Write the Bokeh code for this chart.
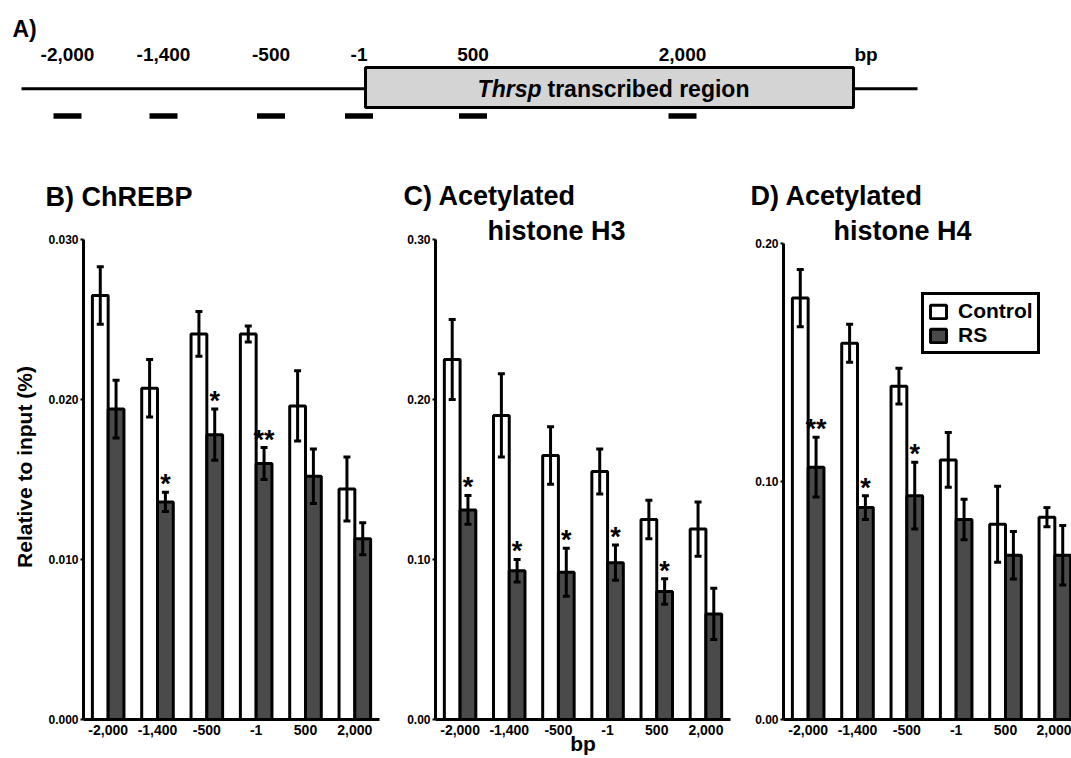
import numpy as np
from bokeh.plotting import figure
from bokeh.models import (ColumnDataSource, Range1d, FixedTicker, Whisker, TeeHead,
                          Label, Legend, LegendItem, NumeralTickFormatter)
from bokeh.layouts import column, row
from bokeh.embed import file_html
from bokeh.resources import INLINE
from bokeh.core.properties import value

FONT = "Liberation Sans"
RS_COLOR = "#4a4a4a"

# ---------------- data ----------------
sites = ["-2,000", "-1,400", "-500", "-1", "500", "2,000"]

b_control = [0.0265, 0.0207, 0.0241, 0.0241, 0.0196, 0.0144]
b_control_err = [0.0018, 0.0018, 0.0014, 0.0005, 0.0022, 0.0020]
b_rs = [0.0194, 0.0136, 0.0178, 0.0160, 0.0152, 0.0113]
b_rs_err = [0.0018, 0.0006, 0.0016, 0.0010, 0.0017, 0.0010]
b_sig = ["", "*", "*", "**", "", ""]
b_ticks = [0.0, 0.01, 0.02, 0.03]

c_control = [0.225, 0.190, 0.165, 0.155, 0.125, 0.119]
c_control_err = [0.025, 0.026, 0.018, 0.014, 0.012, 0.017]
c_rs = [0.131, 0.093, 0.092, 0.098, 0.080, 0.066]
c_rs_err = [0.009, 0.007, 0.015, 0.011, 0.008, 0.016]
c_sig = ["*", "*", "*", "*", "*", ""]
c_ticks = [0.0, 0.1, 0.2, 0.3]

d_control = [0.177, 0.158, 0.140, 0.109, 0.082, 0.085]
d_control_err = [0.012, 0.008, 0.0075, 0.0115, 0.016, 0.004]
d_rs = [0.106, 0.089, 0.094, 0.084, 0.069, 0.069]
d_rs_err = [0.0125, 0.005, 0.014, 0.0085, 0.010, 0.0125]
d_sig = ["**", "*", "*", "", "", ""]
d_ticks = [0.0, 0.1, 0.2]

# schematic of the locus (diagram units)
map_site_pos = [67, 163, 270.5, 358.5, 472.5, 682]
locus_start, locus_end = 21, 917
gene_start, gene_end = 365, 853

TOP_H = 214
ROW_H = 758 - TOP_H


def style_axes(p):
    p.xgrid.visible = False
    p.ygrid.visible = False
    p.outline_line_color = None
    for ax in (p.xaxis, p.yaxis):
        ax.axis_line_width = 3
        ax.axis_line_color = "black"
        ax.minor_tick_line_color = None
        ax.major_label_text_font = FONT
        ax.major_label_text_font_style = "bold"
        ax.major_label_text_color = "black"
        ax.axis_label_text_color = "black"
        ax.axis_label_text_font = FONT
        ax.axis_label_text_font_style = "bold"
    p.xaxis.major_tick_line_color = None
    p.xaxis.major_tick_out = 0
    p.xaxis.major_tick_in = 0
    p.xaxis.major_label_standoff = 5
    p.xaxis.major_label_text_font_size = "14px"
    p.yaxis.major_tick_out = 3
    p.yaxis.major_tick_in = 0
    p.yaxis.major_tick_line_width = 2
    p.yaxis.major_tick_line_color = "black"
    p.yaxis.major_label_standoff = 2
    p.yaxis.major_label_text_font_size = "12px"


def bar_panel(width, mbl, mbr, mbb, axis_top_px, ymax, yticks, yfmt,
              ctrl, cerr, rs, rerr, sig, frame_px_per_6):
    n = len(sites)
    idx = np.arange(n)
    frame_h = ROW_H - mbb
    frame_w = width - mbl - mbr
    y_end = ymax * frame_h / (frame_h - axis_top_px)
    x_end = -0.5 + n * frame_w / frame_px_per_6
    p = figure(width=width, height=ROW_H, x_range=Range1d(-0.5, x_end),
               y_range=Range1d(0, y_end), output_backend="svg", toolbar_location=None,
               min_border_left=mbl, min_border_right=mbr, min_border_top=0,
               min_border_bottom=mbb)
    p.background_fill_color = "white"
    p.border_fill_color = "white"
    bw = 0.32
    ctrl = np.array(ctrl); cerr = np.array(cerr)
    rs = np.array(rs); rerr = np.array(rerr)
    src_c = ColumnDataSource(dict(x=idx - bw / 2, top=ctrl, upper=ctrl + cerr, lower=ctrl - cerr))
    src_r = ColumnDataSource(dict(x=idx + bw / 2, top=rs, upper=rs + rerr, lower=rs - rerr, sig=sig))
    rc = p.vbar(x="x", top="top", width=bw, source=src_c, fill_color="white",
                line_color="black", line_width=3)
    rr = p.vbar(x="x", top="top", width=bw, source=src_r, fill_color=RS_COLOR,
                line_color="black", line_width=3)
    for src in (src_c, src_r):
        p.add_layout(Whisker(source=src, base="x", upper="upper", lower="lower",
                             line_width=3, line_color="black", level="overlay",
                             upper_head=TeeHead(size=7, line_width=3, line_color="black"),
                             lower_head=TeeHead(size=7, line_width=3, line_color="black")))
    p.text(x="x", y="upper", text="sig", source=src_r, text_align="center",
           text_baseline="alphabetic", y_offset=-8, text_font=value(FONT),
           text_font_size="27px", text_font_style="bold", text_color="black")
    style_axes(p)
    p.xaxis.ticker = FixedTicker(ticks=list(idx))
    p.xaxis.major_label_overrides = {int(i): s for i, s in enumerate(sites)}
    p.yaxis.ticker = FixedTicker(ticks=yticks)
    p.yaxis.formatter = NumeralTickFormatter(format=yfmt)
    p.yaxis.bounds = (0, ymax)
    return p, rc, rr


def sub_title(p, ymax, text, dx, dy, size="27px"):
    p.add_layout(Label(x=p.x_range.start, y=ymax, x_offset=dx, y_offset=dy,
                       text=text, text_font=FONT, text_font_size=size,
                       text_font_style="bold", text_baseline="alphabetic",
                       text_align="left", text_color="black"))


def txt(p, x, y, s, size, style="bold", align="left"):
    p.text(x=[x], y=[y], text=[s], text_align=align, text_baseline="alphabetic",
           text_font=value(FONT), text_font_size=size, text_font_style=style,
           text_color="black")


# ---------------- panel A (locus map) + panel headings ----------------
pa = figure(width=1071, height=TOP_H, x_range=Range1d(0, 1071), y_range=Range1d(TOP_H, 0),
            output_backend="svg", toolbar_location=None, min_border=0)
pa.axis.visible = False
pa.grid.visible = False
pa.outline_line_color = None
pa.background_fill_color = "white"
pa.border_fill_color = "white"
pa.segment(x0=[locus_start], y0=[88.3], x1=[locus_end], y1=[88.3], line_width=3, line_color="black")
pa.quad(left=[gene_start], right=[gene_end], top=[67], bottom=[107], fill_color="#d4d4d4",
        line_color="black", line_width=3)
pa.rect(x=map_site_pos, y=[115.5] * len(map_site_pos), width=28, height=5.5,
        fill_color="black", line_color=None)
pa.text(x=map_site_pos, y=[54.2] * len(map_site_pos), text=sites, text_align="center",
        text_baseline="alphabetic", text_font=value(FONT), text_font_size="19px",
        text_font_style="bold", text_color="black")
txt(pa, 865.5, 54.2, "bp", "19px", align="center")
txt(pa, 541, 88.8, "Thrsp", "23px", style="bold italic", align="right")
txt(pa, 547, 88.8, "transcribed region", "23px")
txt(pa, 12, 28.8, "A)", "23px")
txt(pa, 45, 196.3, "B) ChREBP", "27px")
txt(pa, 403, 195.3, "C) Acetylated", "27px")
txt(pa, 750, 195.3, "D) Acetylated", "27px")

# ---------------- panels B, C, D ----------------
pb, _, _ = bar_panel(400, 83, 21, 39, 25, 0.03, b_ticks, "0.000",
                     b_control, b_control_err, b_rs, b_rs_err, b_sig, 296.0)
pb.yaxis.axis_label = "Relative to input (%)"
pb.yaxis.axis_label_text_font_size = "21px"
pb.yaxis.axis_label_standoff = 9

pc, _, _ = bar_panel(352, 35, 22, 38, 25, 0.3, c_ticks, "0.00",
                     c_control, c_control_err, c_rs, c_rs_err, c_sig, 295.0)
sub_title(pc, 0.3, "histone H3", 52, 8)
pc.xaxis.axis_label = "bp"
pc.xaxis.axis_label_text_font_size = "21px"
pc.xaxis.axis_label_standoff = -6

pd_, rc, rr = bar_panel(319, 31, 0, 36, 29, 0.2, d_ticks, "0.00",
                        d_control, d_control_err, d_rs, d_rs_err, d_sig, 296.0)
sub_title(pd_, 0.2, "histone H4", 50, 12)
legend = Legend(items=[LegendItem(label="Control", renderers=[rc]),
                       LegendItem(label="RS", renderers=[rr])],
                location=(138, 365), orientation="vertical",
                label_text_font=FONT, label_text_font_size="21px",
                label_text_font_style="bold", label_text_color="black",
                glyph_width=20, glyph_height=17, label_standoff=10,
                padding=4, spacing=0, margin=0,
                border_line_color="black", border_line_width=3, border_line_alpha=1.0,
                background_fill_color="white", background_fill_alpha=1.0)
pd_.add_layout(legend)

layout = column(pa, row(pb, pc, pd_, spacing=0), spacing=0)

open("out.html", "w").write(file_html(layout, INLINE))
